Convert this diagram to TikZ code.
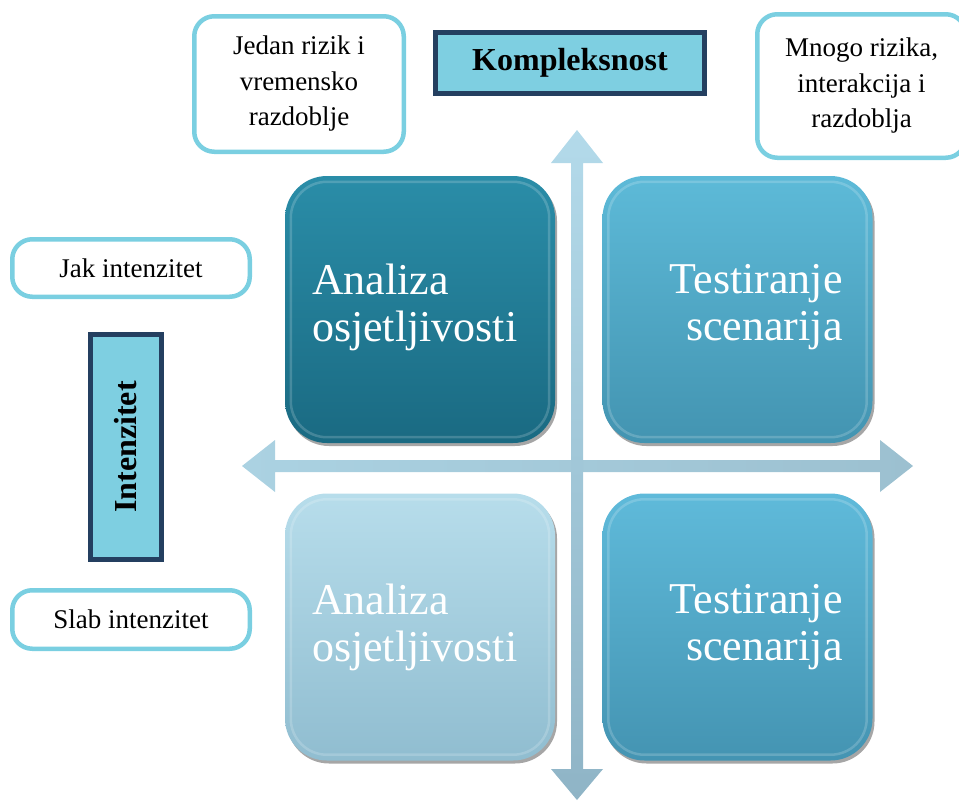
\documentclass[tikz,border=0pt]{standalone}
\usepackage{fontspec}
\setmainfont{Liberation Serif}
\usetikzlibrary{shadows}
\definecolor{lblborder}{HTML}{7ACFE1}
\definecolor{navyline}{HTML}{243F60}
\definecolor{cyanfill}{HTML}{7ECFE1}
\definecolor{tltop}{HTML}{2A8DA8}
\definecolor{tlbot}{HTML}{1A6A82}
\definecolor{trtop}{HTML}{5DBAD8}
\definecolor{trbot}{HTML}{4394B1}
\definecolor{bltop}{HTML}{B7DDEB}
\definecolor{blbot}{HTML}{90BDD0}
\definecolor{brtop}{HTML}{5FBADA}
\definecolor{brbot}{HTML}{4494B2}
\definecolor{arrtop}{HTML}{B3DAEA}
\definecolor{arrbot}{HTML}{8FB4C6}
\definecolor{arrleft}{HTML}{ABD2E2}
\definecolor{arrright}{HTML}{9CC0D0}
\begin{document}
\begin{tikzpicture}[x=1pt,y=-1pt,
  lblbox/.style={draw=lblborder, line width=4.5pt, rounded corners=20pt, fill=white,
    align=center, inner sep=0pt, font=\fontsize{27}{35.5}\selectfont},
  titlebox/.style={draw=navyline, line width=5pt, fill=cyanfill, inner sep=0pt,
    font=\fontsize{32}{38}\selectfont\bfseries},
  sqbox/.style={rounded corners=42pt, minimum width=270pt, minimum height=267pt, inner sep=0pt,
    drop shadow={shadow xshift=2pt, shadow yshift=-3pt, opacity=0.35, fill=black}},
  sqtext/.style={text=white, inner sep=0pt, font=\fontsize{44}{47}\selectfont},
  gloss/.style={draw=white, opacity=0.18, line width=2.5pt, rounded corners=36pt}
]
\useasboundingbox (0,0) rectangle (959,801);
\clip (0,0) rectangle (959,801);

% axes (block arrows)
\path[left color=arrleft, right color=arrright]
  (242,466) -- (275,440) -- (275,460) -- (880,460) -- (880,440) -- (913,466)
  -- (880,492) -- (880,472) -- (275,472) -- (275,492) -- cycle;
\path[top color=arrtop, bottom color=arrbot]
  (577,130) -- (603,163) -- (583,163) -- (583,769) -- (603,769) -- (577,800)
  -- (551,769) -- (571,769) -- (571,163) -- (551,163) -- cycle;

% quadrant squares
\node[sqbox, top color=tltop, bottom color=tlbot] (tl) at (420,309.5) {};
\node[sqbox, top color=trtop, bottom color=trbot] (tr) at (737.5,309.5) {};
\node[sqbox, top color=bltop, bottom color=blbot] (bl) at (420,627) {};
\node[sqbox, top color=brtop, bottom color=brbot] (br) at (737.5,627) {};
\foreach \s in {tl,tr,bl,br}{
  \draw[gloss] ([xshift=6pt,yshift=-6pt]\s.north west) rectangle ([xshift=-6pt,yshift=6pt]\s.south east);
}
\node[sqtext, anchor=west, align=left] (tlt) at ([xshift=27pt,yshift=2pt]tl.west) {Analiza\\osjetljivosti};
\node[sqtext, anchor=east, align=right] (trt) at ([xshift=-30pt,yshift=2pt]tr.east) {Testiranje\\scenarija};
\node[sqtext, anchor=west, align=left] (blt) at ([xshift=27pt]bl.west) {Analiza\\osjetljivosti};
\node[sqtext, anchor=east, align=right] (brt) at ([xshift=-30pt]br.east) {Testiranje\\scenarija};

% labels
\node[lblbox, minimum width=209.5pt, minimum height=135.5pt] (one) at (299,84) {Jedan rizik i\\vremensko\\razdoblje};
\node[lblbox, minimum width=208.5pt, minimum height=143.5pt] (many) at (861.5,86) {Mnogo rizika,\\interakcija i\\razdoblja};
\node[titlebox, minimum width=269pt, minimum height=61pt] (komp) at (570,63) {Kompleksnost};
\node[lblbox, minimum width=237.5pt, minimum height=57.5pt] (jak) at (131,268) {Jak intenzitet};
\node[lblbox, minimum width=237.5pt, minimum height=58.5pt] (slab) at (131,619.5) {Slab intenzitet};
\node[titlebox, rotate=90, minimum width=225pt, minimum height=71pt] (int) at (126,447) {Intenzitet};
\end{tikzpicture}
\end{document}
